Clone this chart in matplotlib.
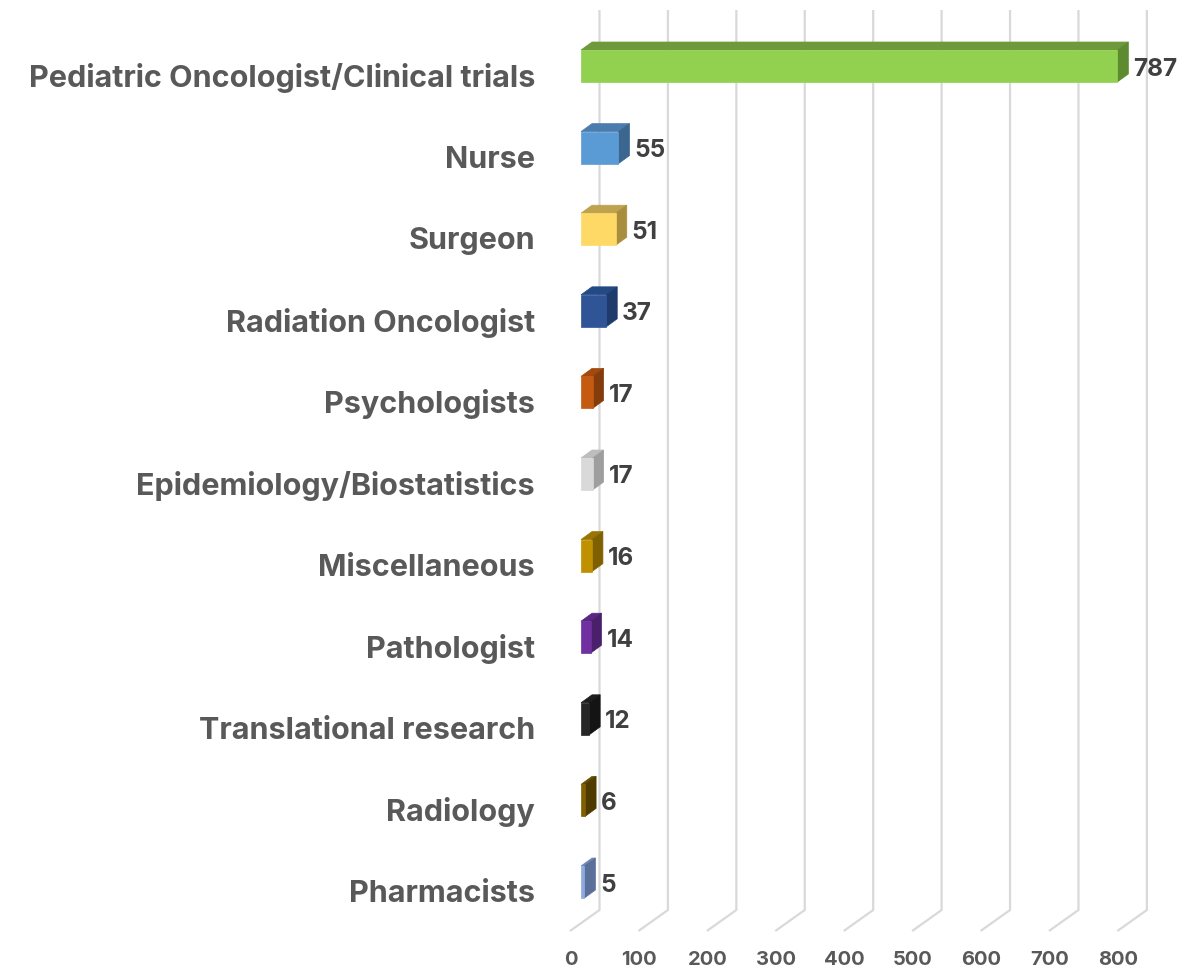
import matplotlib
matplotlib.use("Agg")
import matplotlib.pyplot as plt
from matplotlib.patches import Polygon

# ---- data ----
categories = ["Pediatric Oncologist/Clinical trials", "Nurse", "Surgeon",
              "Radiation Oncologist", "Psychologists", "Epidemiology/Biostatistics",
              "Miscellaneous", "Pathologist", "Translational research",
              "Radiology", "Pharmacists"]
values = [787, 55, 51, 37, 17, 17, 16, 14, 12, 6, 5]
tick_values = [0, 100, 200, 300, 400, 500, 600, 700, 800]

# face colours (front, top, side)
front_colors = ["#92D050", "#5B9BD5", "#FFD966", "#2F5597", "#C55A11", "#D9D9D9",
                "#BF9000", "#7030A0", "#262626", "#7F6000", "#8FAADC"]
top_colors = ["#6F9A3C", "#4A7DAE", "#BFA24E", "#244A85", "#A24A0E", "#BDBDBD",
              "#9A7400", "#5A2683", "#1E1E1E", "#654C00", "#7088B8"]
side_colors = ["#5E8A30", "#3B6690", "#A88D3E", "#1F3B6C", "#843C0C", "#9E9E9E",
               "#7F6000", "#4A1F6C", "#141414", "#4F3B00", "#5A6F99"]

FONT = "Inter"

# ---- geometry (pixel-derived scales) ----
W, H = 1179, 970
px_per_unit = 0.6815      # horizontal pixels per value unit (bar front plane)
x0_px = 581               # pixel of value 0 on bar front plane
row_px = 81.6             # pixel spacing between categories
y0_px = 67                # pixel centre of first bar

fig = plt.figure(figsize=(W / 100, H / 100), dpi=100)
ax = fig.add_axes([0, 0, 1, 1])
ax.set_xlim(-x0_px / px_per_unit, (W - x0_px) / px_per_unit)
ax.set_ylim((H - y0_px) / row_px, -y0_px / row_px)
ax.axis("off")

def ux(px):  # pixel distance -> data units (x)
    return px / px_per_unit

def uy(px):  # pixel distance -> data units (y)
    return px / row_px

def yrow(px):  # absolute pixel y -> data y
    return (px - y0_px) / row_px

# ---- gridlines (back wall + floor) ----
grid_col = "#D9D9D9"
back_off = ux(18.5)
front_off = ux(-11)
scale_g = 1.004
for v in tick_values:
    xb = v * scale_g + back_off
    xf = v * scale_g + front_off
    ax.plot([xb, xb, xf], [yrow(11), yrow(911), yrow(932)],
            color=grid_col, lw=1.6, solid_capstyle="butt", zorder=1)
    ax.text(xf + ux(1), yrow(960), f"{v}", ha="center", va="center",
            fontsize=14.5, fontweight="bold", color="#595959", family=FONT)

# ---- 3D bars ----
h = uy(32) / 2
dx = ux(11)
dy = uy(8)
for i, (v, fc, tc, sc) in enumerate(zip(values, front_colors, top_colors, side_colors)):
    front = [(0, i - h), (v, i - h), (v, i + h), (0, i + h)]
    top = [(0, i - h), (v, i - h), (v + dx, i - h - dy), (dx, i - h - dy)]
    side = [(v, i - h), (v + dx, i - h - dy), (v + dx, i + h - dy), (v, i + h)]
    ax.add_patch(Polygon(top, closed=True, facecolor=tc, edgecolor=tc, lw=0.5, zorder=3))
    ax.add_patch(Polygon(side, closed=True, facecolor=sc, edgecolor=sc, lw=0.5, zorder=3))
    ax.add_patch(Polygon(front, closed=True, facecolor=fc, edgecolor=fc, lw=0.5, zorder=4))
    ax.text(v + dx + ux(5), i + uy(2), f"{v}", ha="left", va="center",
            fontsize=17.5, fontweight="bold", color="#404040", family=FONT, zorder=5)

# ---- category labels ----
for i, c in enumerate(categories):
    ax.text(ux(535 - x0_px), i + uy(11), c, ha="right", va="center",
            fontsize=22, fontweight="bold", color="#595959", family=FONT)

fig.savefig("out.png", dpi=100, facecolor="white")
